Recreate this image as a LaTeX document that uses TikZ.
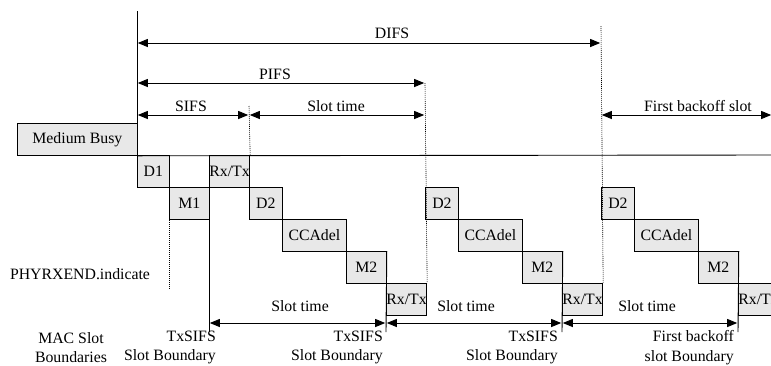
\documentclass[tikz,border=0pt]{standalone}
\usepackage{fontspec}
\setmainfont{Liberation Serif}
\usetikzlibrary{arrows.meta}
\begin{document}
\begin{tikzpicture}[x=1pt,y=-1pt,
  every node/.style={font=\fontsize{15.8}{19.5}\selectfont},
  slotbox/.style={draw, line width=0.8pt, fill=black!9, inner sep=0pt,
    anchor=north west, minimum height=32pt},
  rule/.style={line width=0.9pt},
  guide/.style={line width=0.6pt, dash pattern=on 1pt off 1pt},
  span/.style={line width=0.9pt, shorten <=0.8pt, shorten >=0.8pt,
    {Triangle[length=10pt,width=8pt]}-{Triangle[length=10pt,width=8pt]}},
  lbl/.style={inner sep=0pt},
  bnd/.style={inner sep=0pt, align=right, anchor=east},
]
\clip (0,0) rectangle (771,365);
\fill[white] (0,0) rectangle (771,365);

% medium busy and first row
\node[slotbox, minimum width=120pt] (busy) at (17,123) {Medium Busy};
\node[slotbox, minimum width=32pt] (d1) at (137,155) {D1};
\node[slotbox, minimum width=40pt] (m1) at (169,187) {M1};
\node[slotbox, minimum width=40pt] (rx0) at (209,155) {Rx/Tx};

% three identical slot staircases
\foreach \g/\x in {a/249,b/425,c/601}{
  \node[slotbox, minimum width=33pt] (d2\g) at (\x,187) {D2};
  \node[slotbox, minimum width=64pt] (cca\g) at (\x+33,219) {CCAdel};
  \node[slotbox, minimum width=40pt] (m2\g) at (\x+97,251) {M2};
  \node[slotbox, minimum width=39pt] (rx\g) at (\x+137,283) {Rx/Tx};
}

% reference coordinates
\coordinate (top) at (137,11);
\coordinate (difsL) at (137,43);
\coordinate (difsR) at (601,43);
\coordinate (difsTop) at (601,26);
\coordinate (pifsL) at (137,83);
\coordinate (pifsR) at (425,83);
\coordinate (sifsL) at (137,115);
\coordinate (sifsR) at (249,115);
\coordinate (sifsTop) at (249,106);
\coordinate (slotR) at (425,115);
\coordinate (fbL) at (601,115);
\coordinate (fbR) at (772,115);
\coordinate (rightEnd) at (771,155);
\coordinate (phyEnd) at (169,289);
\coordinate (s0) at (209,332);
\coordinate (s1) at (386,332);
\coordinate (s2) at (562,332);
\coordinate (s3) at (738,332);
\coordinate (a0) at (209,323);
\coordinate (a1) at (386,323);
\coordinate (a2) at (562,323);
\coordinate (a3) at (738,323);

% solid time axis
\draw[rule] (top) -- (d1.north west);
\draw[rule] (busy.south east) -- (rightEnd);

% slot boundaries
\draw[rule] (rx0.north west) -- (s0);
\draw[rule] (m2a.north east) -- (s1);
\draw[rule] (m2b.north east) -- (s2);
\draw[rule] (m2c.north east) -- (s3);

% dotted markers
\draw[guide] (sifsTop) -- (rx0.north east);
\draw[guide] (pifsR) -- (rxa.north east);
\draw[guide] (difsTop) -- (rxb.north east);
\draw[guide] (m1.south west) -- (phyEnd);

% interframe spaces
\draw[span] (difsL) -- (difsR);
\node[lbl] (difs) at (392,33) {DIFS};
\draw[span] (pifsL) -- (pifsR);
\node[lbl] (pifs) at (275,74) {PIFS};
\draw[span] (sifsL) -- (sifsR);
\node[lbl] (sifs) at (191,106) {SIFS};
\draw[span] (sifsR) -- (slotR);
\node[lbl] (slot0) at (336,106) {Slot time};
\draw[span] (fbL) -- (fbR);
\node[lbl] (fb) at (698,106) {First backoff slot};

% slot times
\draw[span] (a0) -- (a1);
\node[lbl] (slot1) at (300,306) {Slot time};
\draw[span] (a1) -- (a2);
\node[lbl] (slot2) at (466,306) {Slot time};
\draw[span] (a2) -- (a3);
\node[lbl] (slot3) at (647,306) {Slot time};

% labels
\node[lbl] (phy) at (80,274) {PHYRXEND.indicate};
\node[lbl, align=center] (mac) at (71,347.5) {MAC Slot\\Boundaries};
\node[bnd] (b0) at (216,347.5) {TxSIFS\\Slot Boundary};
\node[bnd] (b1) at (383,347.5) {TxSIFS\\Slot Boundary};
\node[bnd] (b2) at (558,347.5) {TxSIFS\\Slot Boundary};
\node[bnd] (b3) at (734,347.5) {First backoff\\slot Boundary};
\end{tikzpicture}
\end{document}
